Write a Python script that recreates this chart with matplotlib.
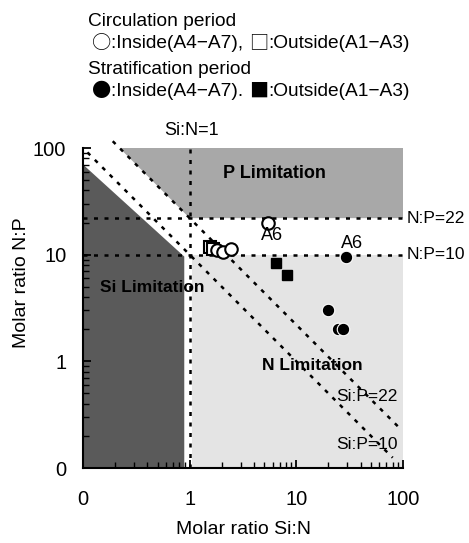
import numpy as np
import matplotlib
matplotlib.use("Agg")
import matplotlib.pyplot as plt
from matplotlib.ticker import FixedLocator, LogLocator, NullFormatter

plt.rcParams['font.family'] = ['Liberation Sans', 'DejaVu Sans']

# molar ratio thresholds
si_n_limit = 1.0
np_low, np_high = 10.0, 22.0
sip_low, sip_high = 10.0, 22.0

# extents of the diagonal Si:P lines (Si:N values)
sip_low_x = [0.11, 80.0]
sip_high_x = [0.19, 92.0]

# shaded region outlines (Si:N, N:P)
si_region_x = [0.1, 0.1, 0.89, 0.89]
si_region_y = [0.1, 70.0, 9.6, 0.1]
n_region_x = [1.05, 1.05, 100.0, 100.0]
n_region_y = [0.1, np_low, np_low, 0.1]

# observations (Si:N, N:P)
circ_in_x = [1.8, 2.05, 2.45, 5.4]
circ_in_y = [11.0, 10.6, 11.3, 20.0]
circ_out_x = [1.55, 1.65]
circ_out_y = [11.8, 11.3]
strat_in_x = [20.0, 24.5, 27.5, 29.0]
strat_in_y = [3.05, 2.0, 2.0, 9.5]
strat_out_x = [6.4, 8.2]
strat_out_y = [8.4, 6.4]

ticks = [0.1, 1, 10, 100]
tick_labels = ["0", "1", "10", "100"]

fig = plt.figure(figsize=(4.69, 5.43), dpi=100)
ax = fig.add_axes([83 / 469, 75 / 543, 320 / 469, 320 / 543])
ax.set_xscale("log")
ax.set_yscale("log")
ax.set_xlim(0.1, 100)
ax.set_ylim(0.1, 100)

# shaded regions
ax.fill(si_region_x, si_region_y, color="#5a5a5a", lw=0, zorder=1)
p_x = [sip_high / 100, si_n_limit, 100, 100]
p_y = [100, np_high, np_high, 100]
ax.fill(p_x, p_y, color="#a8a8a8", lw=0, zorder=1)
ax.fill(n_region_x, n_region_y, color="#e4e4e4", lw=0, zorder=1)

dots = dict(color="black", lw=1.8, ls=(0, (1.6, 2.6)), zorder=2, clip_on=False)
ax.plot([0.1, 100], [np_high, np_high], **dots)
ax.plot([0.1, 100], [np_low, np_low], **dots)
ax.plot([si_n_limit, si_n_limit], [0.1, 100], **dots)
x = np.array(sip_high_x)
ax.plot(x, sip_high / x, **dots)
x = np.array(sip_low_x)
ax.plot(x, sip_low / x, **dots)

# observations
ax.plot(circ_out_x, circ_out_y, "s", ms=8, mfc="white", mec="black", mew=1.5, ls="none", zorder=3)
ax.plot(circ_in_x, circ_in_y, "o", ms=9, mfc="white", mec="black", mew=1.5, ls="none", zorder=3)
ax.plot(strat_out_x, strat_out_y, "s", ms=7.5, mfc="black", mec="black", ls="none", zorder=3)
ax.plot(strat_in_x, strat_in_y, "o", ms=9, mfc="black", mec="white", mew=0.8, ls="none", zorder=3)

# labels inside the plot
ax.text(6.3, 58, "P Limitation", fontsize=13, fontweight="bold", ha="center", va="center", zorder=4)
ax.text(0.45, 4.9, "Si Limitation", fontsize=12.5, fontweight="bold", ha="center", va="center", zorder=4)
ax.text(14, 0.92, "N Limitation", fontsize=12.5, fontweight="bold", ha="center", va="center", zorder=4)
ax.text(46, 0.47, "Si:P=22", fontsize=12.5, ha="center", va="center", zorder=4)
ax.text(46, 0.165, "Si:P=10", fontsize=12.5, ha="center", va="center", zorder=4)
ax.text(1.05, 147, "Si:N=1", fontsize=13, ha="center", va="center", clip_on=False)
ax.text(109, np_high, "N:P=22", fontsize=12.5, ha="left", va="center", clip_on=False)
ax.text(109, np_low, "N:P=10", fontsize=12.5, ha="left", va="center", clip_on=False)
ax.text(5.9, 15.0, "A6", fontsize=13, ha="center", va="center", zorder=4)
ax.text(33, 12.8, "A6", fontsize=13, ha="center", va="center", zorder=4)

# axes styling
for side in ["top", "right"]:
    ax.spines[side].set_visible(False)
for side in ["left", "bottom"]:
    ax.spines[side].set_linewidth(1.5)
    ax.spines[side].set_zorder(5)
for axis in [ax.xaxis, ax.yaxis]:
    axis.set_major_locator(FixedLocator(ticks))
    axis.set_minor_locator(LogLocator(base=10, subs=np.arange(2, 10)))
    axis.set_minor_formatter(NullFormatter())
ax.set_xticklabels(tick_labels)
ax.set_yticklabels(tick_labels)
ax.tick_params(which="major", direction="in", length=6, width=1.3, labelsize=14.5)
ax.tick_params(which="minor", direction="in", length=4, width=1.0)
ax.tick_params(axis="x", pad=16)
ax.tick_params(axis="y", pad=12)

fig.text(22 / 469, 1 - 283 / 543, "Molar ratio N:P", rotation=90, fontsize=14, ha="center", va="center")
fig.text(243 / 469, 1 - 530 / 543, "Molar ratio Si:N", fontsize=14, ha="center", va="center")

# key at the top: symbols in a CJK font, words in the Latin font
sym_font = ["Noto Sans CJK JP", "DejaVu Sans"]
key = [
    (88, 22, [("Circulation period", None)]),
    (92, 44, [("○", sym_font), (":Inside(A4−A7), ", None), ("□", sym_font), (":Outside(A1−A3)", None)]),
    (88, 69, [("Stratification period", None)]),
    (92, 91, [("●", sym_font), (":Inside(A4−A7). ", None), ("■", sym_font), (":Outside(A1−A3)", None)]),
]
for px, py, parts in key:
    prev = None
    for txt, fam in parts:
        kw = dict(fontsize=13.8, va="center", ha="left")
        if fam is not None:
            kw["family"] = fam
        if prev is None:
            prev = fig.text(px / 469, 1 - py / 543, txt, **kw)
        else:
            prev = fig.add_artist(plt.Annotation(txt, xy=(1, 0.5), xycoords=prev, **kw))

fig.savefig("out.png", dpi=100)
